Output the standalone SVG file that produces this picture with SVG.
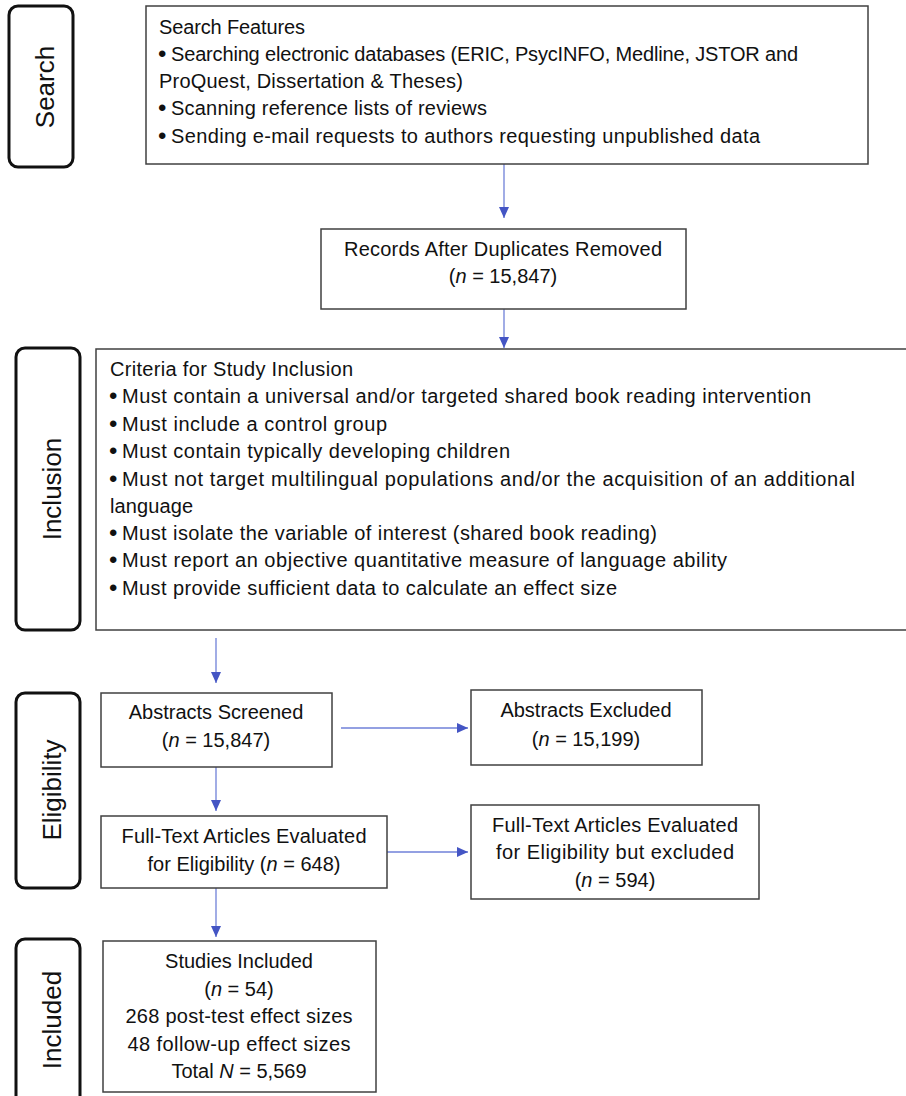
<svg xmlns="http://www.w3.org/2000/svg" width="906" height="1096" viewBox="0 0 906 1096">
<style>
text{font-family:"Liberation Sans",Arial,sans-serif;fill:#111;}
.t{font-size:20px;}
.b{font-size:24px;}
.c{text-anchor:middle;}
.lab{font-size:26px;text-anchor:middle;}
.box{fill:#fff;stroke:#404040;stroke-width:1.5;}
.side{fill:#fff;stroke:#111;stroke-width:3;}
.arr{stroke:#6f80d8;stroke-width:1.3;fill:none;marker-end:url(#ah);}
</style>
<defs>
<marker id="ah" markerWidth="12" markerHeight="12" refX="11" refY="5" orient="auto" markerUnits="userSpaceOnUse">
<path d="M0,0 L11,5 L0,10 Z" fill="#4455c4"/>
</marker>
</defs>
<rect width="906" height="1096" fill="#fff"/>

<g id="connectors">
<line class="arr" x1="504" y1="164" x2="504" y2="218"/>
<line class="arr" x1="504" y1="309" x2="504" y2="348"/>
<line class="arr" x1="216" y1="638" x2="216" y2="683"/>
<line class="arr" x1="341" y1="728" x2="468" y2="728"/>
<line class="arr" x1="216" y1="767" x2="216" y2="811"/>
<line class="arr" x1="387" y1="852" x2="468" y2="852"/>
<line class="arr" x1="216" y1="888" x2="216" y2="937"/>
</g>

<g id="label-search">
<rect class="side" x="9" y="6" width="64" height="161" rx="9"/>
<text class="lab" transform="translate(54,87) rotate(-90)">Search</text>
</g>
<g id="label-inclusion">
<rect class="side" x="16" y="348" width="64" height="282" rx="9"/>
<text class="lab" transform="translate(61,489) rotate(-90)">Inclusion</text>
</g>
<g id="label-eligibility">
<rect class="side" x="16" y="693" width="64" height="195" rx="9"/>
<text class="lab" transform="translate(61,790) rotate(-90)">Eligibility</text>
</g>
<g id="label-included">
<rect class="side" x="16" y="939" width="64" height="170" rx="9"/>
<text class="lab" transform="translate(61,1020) rotate(-90)">Included</text>
</g>

<g id="search-features">
<rect class="box" x="146" y="6" width="722" height="158"/>
<text class="t" x="159" y="34" textLength="146" lengthAdjust="spacing">Search Features</text>
<text class="b" x="158" y="62">•</text>
<text class="t" x="171" y="61" textLength="627" lengthAdjust="spacing">Searching electronic databases (ERIC, PsycINFO, Medline, JSTOR and</text>
<text class="t" x="159" y="88" textLength="304" lengthAdjust="spacing">ProQuest, Dissertation &amp; Theses)</text>
<text class="b" x="158" y="116">•</text>
<text class="t" x="171" y="115" textLength="316" lengthAdjust="spacing">Scanning reference lists of reviews</text>
<text class="b" x="158" y="144">•</text>
<text class="t" x="171" y="143" textLength="589" lengthAdjust="spacing">Sending e-mail requests to authors requesting unpublished data</text>
</g>

<g id="records">
<rect class="box" x="321" y="229" width="365" height="80"/>
<text class="t c" x="503" y="256" textLength="318" lengthAdjust="spacing">Records After Duplicates Removed</text>
<text class="t c" x="503" y="283">(<tspan font-style="italic">n</tspan> = 15,847)</text>
</g>

<g id="criteria">
<rect class="box" x="96" y="349" width="820" height="281"/>
<text class="t" x="110" y="376" textLength="243" lengthAdjust="spacing">Criteria for Study Inclusion</text>
<text class="b" x="109" y="404">•</text>
<text class="t" x="122" y="403" textLength="689" lengthAdjust="spacing">Must contain a universal and/or targeted shared book reading intervention</text>
<text class="b" x="109" y="432">•</text>
<text class="t" x="122" y="431" textLength="265" lengthAdjust="spacing">Must include a control group</text>
<text class="b" x="109" y="459">•</text>
<text class="t" x="122" y="458" textLength="388" lengthAdjust="spacing">Must contain typically developing children</text>
<text class="b" x="109" y="487">•</text>
<text class="t" x="122" y="486" textLength="733" lengthAdjust="spacing">Must not target multilingual populations and/or the acquisition of an additional</text>
<text class="t" x="110" y="513" textLength="83" lengthAdjust="spacing">language</text>
<text class="b" x="109" y="541">•</text>
<text class="t" x="122" y="540" textLength="535" lengthAdjust="spacing">Must isolate the variable of interest (shared book reading)</text>
<text class="b" x="109" y="568">•</text>
<text class="t" x="122" y="567" textLength="605" lengthAdjust="spacing">Must report an objective quantitative measure of language ability</text>
<text class="b" x="109" y="596">•</text>
<text class="t" x="122" y="595" textLength="495" lengthAdjust="spacing">Must provide sufficient data to calculate an effect size</text>
</g>

<g id="abstracts-screened">
<rect class="box" x="101" y="693" width="231" height="74"/>
<text class="t c" x="216" y="719">Abstracts Screened</text>
<text class="t c" x="216" y="747">(<tspan font-style="italic">n</tspan> = 15,847)</text>
</g>

<g id="abstracts-excluded">
<rect class="box" x="471" y="690" width="231" height="75"/>
<text class="t c" x="586" y="717">Abstracts Excluded</text>
<text class="t c" x="586" y="746">(<tspan font-style="italic">n</tspan> = 15,199)</text>
</g>

<g id="full-text">
<rect class="box" x="101" y="816" width="286" height="72"/>
<text class="t c" x="244" y="843" textLength="245" lengthAdjust="spacing">Full-Text Articles Evaluated</text>
<text class="t c" x="244" y="871">for Eligibility (<tspan font-style="italic">n</tspan> = 648)</text>
</g>

<g id="full-text-excluded">
<rect class="box" x="471" y="805" width="288" height="94"/>
<text class="t c" x="615" y="832" textLength="246" lengthAdjust="spacing">Full-Text Articles Evaluated</text>
<text class="t c" x="615" y="859" textLength="238" lengthAdjust="spacing">for Eligibility but excluded</text>
<text class="t c" x="615" y="887">(<tspan font-style="italic">n</tspan> = 594)</text>
</g>

<g id="studies-included">
<rect class="box" x="103" y="941" width="273" height="151"/>
<text class="t c" x="239" y="968">Studies Included</text>
<text class="t c" x="239" y="996">(<tspan font-style="italic">n</tspan> = 54)</text>
<text class="t c" x="239" y="1023" textLength="227" lengthAdjust="spacing">268 post-test effect sizes</text>
<text class="t c" x="239" y="1051" textLength="223" lengthAdjust="spacing">48 follow-up effect sizes</text>
<text class="t c" x="239" y="1078">Total <tspan font-style="italic">N</tspan> = 5,569</text>
</g>
</svg>
